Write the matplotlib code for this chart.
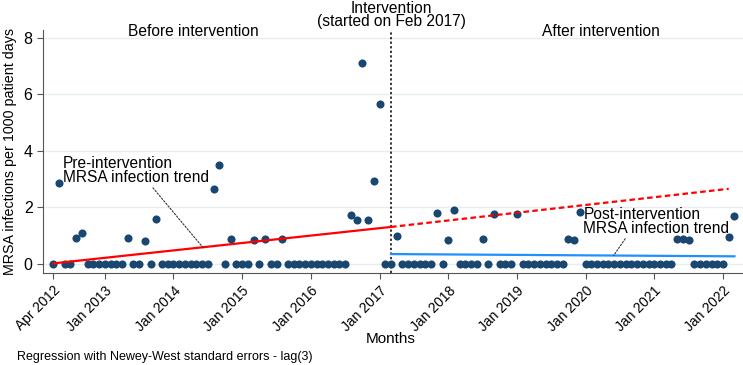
import numpy as np
import pandas as pd
from matplotlib import pyplot as plt

plt.rcParams['font.family'] = ['Liberation Sans', 'DejaVu Sans']

# monthly MRSA rate, Apr 2012 .. Mar 2022
months = pd.period_range('2012-04', '2022-03', freq='M')
rate = [0, 2.85, 0, 0, 0.93, 1.1, 0, 0, 0, 0, 0, 0, 0, 0.93, 0, 0,
        0.83, 0, 1.6, 0, 0, 0, 0, 0, 0, 0, 0, 0, 2.65, 3.5, 0, 0.88,
        0, 0, 0, 0.85, 0, 0.9, 0, 0, 0.87, 0, 0, 0, 0, 0, 0, 0, 0, 0,
        0, 0, 1.75, 1.57, 7.1, 1.57, 2.95, 5.65,
        0, 0, 1.0, 0, 0, 0, 0, 0, 0, 1.8, 0, 0.86, 1.92, 0, 0, 0, 0,
        0.89, 0, 1.78, 0, 0, 0, 1.78, 0, 0, 0, 0, 0, 0, 0, 0, 0.88,
        0.84, 1.83, 0, 0, 0, 0, 0, 0, 0, 0, 0, 0, 0, 0, 0, 0, 0, 0,
        0.88, 0.88, 0.86, 0, 0, 0, 0, 0, 0, 0.97, 1.7]

tick_months = ['2012-04', '2013-01', '2014-01', '2015-01', '2016-01', '2017-01',
               '2018-01', '2019-01', '2020-01', '2021-01', '2022-01']
tick_labels = ['Apr 2012', 'Jan 2013', 'Jan 2014', 'Jan 2015', 'Jan 2016', 'Jan 2017',
               'Jan 2018', 'Jan 2019', 'Jan 2020', 'Jan 2021', 'Jan 2022']

interv = '2017-03'          # position of the dashed vertical line
pre_trend = [0.02, 1.31]    # fitted values at first month / intervention
cf_trend = [1.31, 2.66]     # counterfactual, intervention -> Feb 2022
post_trend = [0.35, 0.27]   # fitted values at intervention / Mar 2022

t = np.arange(len(months))
start = months[0]
def idx(m):
    return (pd.Period(m, 'M') - start).n

ti = idx(interv)

fig = plt.figure(figsize=(7.43, 3.65), dpi=100)
ax = fig.add_axes([43/743, 92/365, 700/743, 243/365])

ax.scatter(t, rate, s=34, color='#1a476f', zorder=2, linewidths=0)
ax.plot([0, ti], pre_trend, color='#ff0000', lw=1.6, zorder=3)
ax.plot([ti, idx('2022-02')], cf_trend, color='#ff0000', lw=1.6, ls=(0, (2.5, 1.5)), zorder=3)
ax.plot([ti, idx('2022-03')], post_trend, color='#1e90ff', lw=1.6, zorder=3)
ax.axvline(ti, color='black', lw=1.1, ls=(0, (1.5, 1.5)), zorder=1)

ax.set_xlim(-1.8, 120.5)
ax.set_ylim(-0.32, 8.28)
ax.set_yticks([0, 2, 4, 6, 8])
ax.set_xticks([idx(m) for m in tick_months])
ax.set_xticklabels(tick_labels, rotation=45, ha='right', rotation_mode='anchor', fontsize=10)
ax.tick_params(axis='y', labelsize=11.5, length=4, color='#555555')
ax.tick_params(axis='x', length=4, color='#555555')
ax.grid(axis='y', color='#e4eef0', lw=1)
ax.set_axisbelow(True)
for s in ['top', 'right']:
    ax.spines[s].set_visible(False)
for s in ['left', 'bottom']:
    ax.spines[s].set_color('#555555')

ax.set_ylabel('MRSA infections per 1000 patient days', fontsize=10.3, labelpad=5)
fig.text(391/743, 1 - 339/365, 'Months', ha='center', va='center', fontsize=11)
fig.text(17/743, 1 - 357/365, 'Regression with Newey-West standard errors - lag(3)',
         ha='left', va='center', fontsize=9)

fig.text(193/743, 1 - 31/365, 'Before intervention', ha='center', va='center', fontsize=11.2)
fig.text(601/743, 1 - 31/365, 'After intervention', ha='center', va='center', fontsize=11.2)
fig.text(391/743, 1 - 15/365, 'Intervention\n(started on Feb 2017)', ha='center',
         va='center', fontsize=11.2, linespacing=0.9)

ax.annotate('Pre-intervention\nMRSA infection trend', xy=(26.2, 0.57), xytext=(1.7, 3.3),
            fontsize=11.2, ha='left', va='center', linespacing=0.9,
            arrowprops=dict(arrowstyle='-', ls=(0, (1.5, 1.5)), lw=0.8, color='#333333',
                            shrinkA=0, shrinkB=0, relpos=(0.6, 0)))
ax.annotate('Post-intervention\nMRSA infection trend', xy=(97.9, 0.3), xytext=(92.6, 1.5),
            fontsize=11.2, ha='left', va='center', linespacing=0.9,
            arrowprops=dict(arrowstyle='-', ls=(0, (1.5, 1.5)), lw=0.8, color='#333333',
                            shrinkA=0, shrinkB=0, relpos=(0.3, 0)))

plt.savefig('out.png')
